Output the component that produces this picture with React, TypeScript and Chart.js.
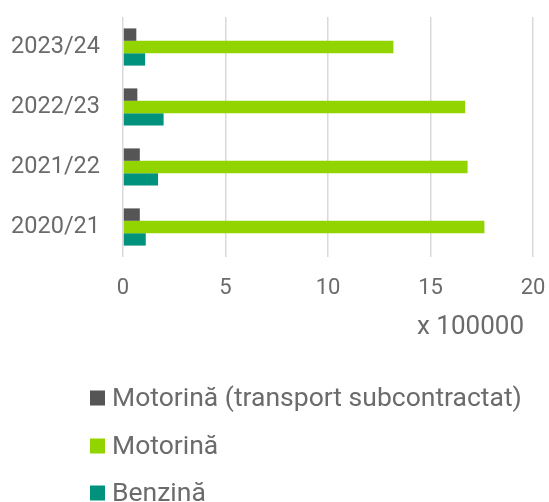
import React, { useEffect, useRef } from "react";
import { Chart, registerables } from "chart.js";

Chart.register(...registerables);

const categories = ["2023/24", "2022/23", "2021/22", "2020/21"];
const seriesLabels = ["Motorină (transport subcontractat)", "Motorină", "Benzină"];
const seriesColors = ["#555555", "#92d400", "#00927c"];
const dieselSubcontracted = [65000, 70000, 82000, 82000];
const diesel = [1319000, 1669000, 1681000, 1763000];
const petrol = [108000, 198000, 171000, 111000];
const xTickLabels = ["0", "5", "10", "15", "20"];
const xTitle = "x 100000";

const TEXT = "#6b6b6b";
const FONT = "Roboto";

const legendPlugin = {
  id: "stackedLegend",
  afterLayout(chart: any) {
    // pull the x-axis title's right anchor slightly inside the plot edge
    const x = chart.scales.x;
    if (x) x.right = x.right - 9;
  },
  afterDraw(chart: any) {
    const ctx = chart.ctx;
    const H = chart.height;
    const offsets = [104, 56, 9];
    ctx.save();
    ctx.font = `26.5px ${FONT}`;
    ctx.textBaseline = "middle";
    ctx.textAlign = "left";
    chart.data.datasets.forEach((ds: any, i: number) => {
      const cy = H - offsets[i];
      ctx.fillStyle = ds.backgroundColor;
      ctx.fillRect(90, cy - 7.5, 15, 15);
      ctx.fillStyle = TEXT;
      ctx.fillText(ds.label, 112, cy + 1);
    });
    ctx.restore();
  },
};

const clearPadding = (s: any) => {
  s.paddingTop = 0;
  s.paddingBottom = 0;
  s.paddingLeft = 0;
  s.paddingRight = 0;
};

export default function App() {
  const ref = useRef<HTMLCanvasElement>(null);
  useEffect(() => {
    if (!ref.current) return;
    const seriesData = [dieselSubcontracted, diesel, petrol];
    const chart = new Chart(ref.current, {
      type: "bar",
      data: {
        labels: categories,
        datasets: seriesData.map((d, i) => ({
          label: seriesLabels[i],
          data: d,
          backgroundColor: seriesColors[i],
          borderWidth: 0,
          categoryPercentage: 0.62,
          barPercentage: 1,
        })),
      },
      options: {
        indexAxis: "y",
        animation: false,
        responsive: false,
        maintainAspectRatio: false,
        layout: {
          padding: { top: 17, right: 16, bottom: 159, left: 10 },
        },
        plugins: {
          legend: { display: false },
          tooltip: { enabled: false },
        },
        scales: {
          x: {
            min: 0,
            max: 2000000,
            afterFit: (s: any) => {
              clearPadding(s);
              s.height = 86;
            },
            ticks: {
              stepSize: 500000,
              color: TEXT,
              font: { family: FONT, size: 22 },
              padding: 18,
              callback: (_v: any, i: number) => xTickLabels[i],
            },
            grid: { color: "#d9d9d9", lineWidth: 1.5, drawTicks: false },
            border: { display: false },
            title: {
              display: true,
              text: xTitle,
              align: "end",
              color: TEXT,
              font: { family: FONT, size: 26 },
              padding: { top: 4, bottom: 0 },
            },
          },
          y: {
            afterFit: (s: any) => {
              clearPadding(s);
              s.width = 113;
            },
            ticks: {
              color: TEXT,
              font: { family: FONT, size: 23.5 },
              padding: 23,
            },
            grid: { display: false, drawTicks: false },
            border: { display: false },
          },
        },
      },
      plugins: [legendPlugin],
    });
    return () => chart.destroy();
  }, []);
  return (
    <div style={{ position: "absolute", left: 0, top: 0, width: 549, height: 502 }}>
      <canvas ref={ref} width={549} height={502} style={{ display: "block" }} />
    </div>
  );
}
